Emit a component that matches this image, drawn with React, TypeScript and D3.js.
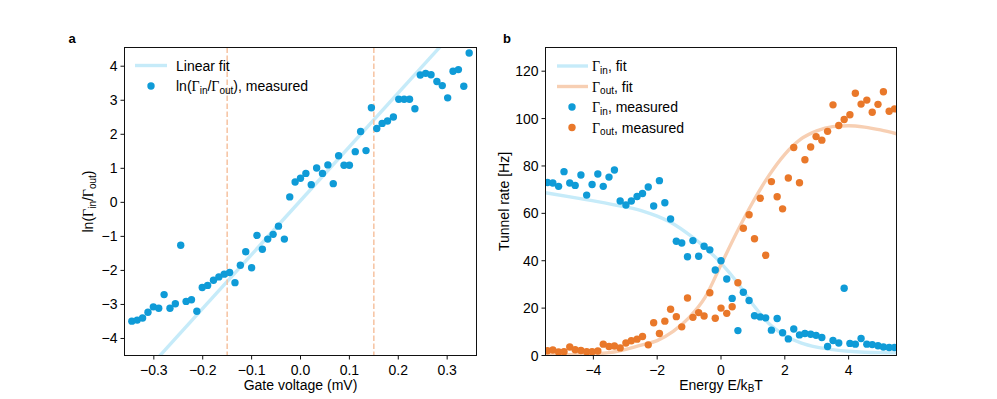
import React from 'react';
import * as d3 from 'd3';

const W = 997;
const H = 399;

// ---------- Panel a data ----------
const GATE_V = [
  -0.345, -0.334, -0.323, -0.312, -0.301, -0.290, -0.279, -0.267, -0.256, -0.245,
  -0.234, -0.223, -0.212, -0.201, -0.190, -0.178, -0.167, -0.156, -0.145, -0.134,
  -0.123, -0.112, -0.100, -0.089, -0.078, -0.067, -0.056, -0.045, -0.033, -0.022,
  -0.011, 0.000, 0.011, 0.022, 0.033, 0.045, 0.056, 0.067, 0.078, 0.089,
  0.100, 0.112, 0.123, 0.134, 0.145, 0.156, 0.167, 0.178, 0.190, 0.201,
  0.212, 0.223, 0.234, 0.245, 0.256, 0.267, 0.279, 0.290, 0.301, 0.312,
  0.323, 0.334, 0.345,
];
const LN_RATIO = [
  -3.49, -3.46, -3.40, -3.23, -3.07, -3.11, -2.71, -3.11, -2.98, -1.26,
  -2.91, -2.86, -3.20, -2.50, -2.44, -2.29, -2.19, -2.11, -2.06, -2.36,
  -1.85, -1.45, -1.92, -0.97, -1.38, -1.08, -0.94, -0.70, -1.08, 0.16,
  0.60, 0.71, 0.85, 0.52, 1.01, 0.85, 1.10, 0.55, 1.37, 1.09,
  1.09, 1.49, 2.08, 1.52, 2.78, 2.17, 2.32, 2.39, 2.51, 3.03,
  3.03, 3.03, 2.75, 3.74, 3.79, 3.75, 3.55, 3.43, 3.07, 3.85,
  3.90, 3.41, 4.39,
];
const LIN_FIT_X = [-0.30, 0.30];
const LIN_FIT_Y = [-4.70, 4.80];
const VLINE_X = [-0.15, 0.15];
const A_XTICKS = [-0.3, -0.2, -0.1, 0.0, 0.1, 0.2, 0.3];
const A_YTICKS = [-4, -3, -2, -1, 0, 1, 2, 3, 4];

// ---------- Panel b data ----------
const ENERGY = [
  -5.44, -5.27, -5.09, -4.92, -4.74, -4.57, -4.39, -4.21, -4.04, -3.86,
  -3.69, -3.51, -3.34, -3.16, -2.98, -2.81, -2.63, -2.46, -2.28, -2.11,
  -1.93, -1.76, -1.58, -1.40, -1.23, -1.05, -0.88, -0.70, -0.53, -0.35,
  -0.18, 0.00, 0.18, 0.35, 0.53, 0.70, 0.88, 1.05, 1.23, 1.40,
  1.58, 1.76, 1.93, 2.11, 2.28, 2.46, 2.63, 2.81, 2.98, 3.16,
  3.34, 3.51, 3.69, 3.86, 4.04, 4.21, 4.39, 4.57, 4.74, 4.92,
  5.09, 5.27, 5.44,
];
const G_IN = [
  73.0, 72.8, 71.4, 77.6, 72.8, 71.8, 76.2, 67.7, 72.2, 76.6,
  71.4, 75.3, 78.3, 65.2, 63.5, 65.2, 67.1, 68.4, 71.1, 63.1,
  73.8, 64.5, 57.6, 48.2, 47.5, 41.7, 48.5, 41.9, 46.1, 44.6,
  36.1, 40.0, 32.3, 24.1, 10.5, 26.7, 23.2, 16.8, 16.3, 15.9,
  10.7, 15.6, 9.6, 7.0, 11.2, 8.7, 9.3, 9.0, 8.5, 7.6,
  3.8, 6.3, 5.3, 28.4, 5.1, 4.8, 7.2, 4.8, 4.6, 4.1,
  3.6, 3.4, 3.4,
];
const G_OUT = [
  2.0, 2.3, 1.5, 1.6, 3.6, 2.4, 2.1, 1.6, 1.6, 1.9,
  4.8, 3.8, 4.0, 3.2, 5.3, 6.2, 6.9, 8.0, 4.5, 13.8,
  9.3, 14.5, 19.5, 16.4, 12.1, 24.3, 16.1, 18.1, 16.7, 26.5,
  15.7, 20.0, 17.8, 20.6, 30.7, 53.7, 59.4, 49.3, 66.4, 42.3,
  73.4, 67.0, 61.9, 74.9, 87.8, 72.9, 82.6, 88.0, 92.4, 90.9,
  94.6, 105.8, 97.1, 99.6, 101.6, 110.7, 106.1, 107.8, 102.7, 106.0,
  111.3, 103.1, 104.1,
];
const FIT_E = [-5.5, -4.5, -3.5, -2.5, -2, -1.5, -1, -0.5, 0, 0.5, 1, 1.5, 2, 2.5, 3, 3.5, 4, 4.5, 5, 5.5];
const FIT_IN = [68.7, 66.4, 64.0, 61.2, 58.8, 55.6, 51.0, 45.6, 39.0, 31.0, 21.5, 13.5, 8.5, 5.3, 3.5, 2.5, 1.8, 1.4, 1.2, 1.1];
const FIT_OUT = [0.2, 0.4, 1.2, 4.4, 6.3, 10.2, 16.0, 24.5, 38.3, 52.1, 64.8, 75.9, 84.9, 91.3, 94.8, 96.6, 97.0, 96.4, 95.2, 93.6];
const B_XTICKS = [-4, -2, 0, 2, 4];
const B_YTICKS = [0, 20, 40, 60, 80, 100, 120];

// ---------- styles ----------
const FONT = "'Liberation Sans', Arial, Helvetica, sans-serif";
const SERIF = "'Liberation Serif', 'Times New Roman', serif";
const BLUE = '#0f9bd7';
const ORANGE = '#e9782a';
const BLUE_FIT = '#c6ebf9';
const ORANGE_FIT = '#f7cfb3';
const VLINE = '#f6c2a0';
const FS = 14;
const R = 3.7;

type Part = { t: string; serif?: boolean; sub?: boolean };

function MathText(parts: Part[]) {
  let prevSub = false;
  return parts.map((p, i) => {
    let dy = 0;
    if (p.sub && !prevSub) dy = 3.5;
    if (!p.sub && prevSub) dy = -3.5;
    prevSub = !!p.sub;
    return (
      <tspan
        key={i}
        dy={dy}
        fontFamily={p.serif ? SERIF : FONT}
        fontSize={p.sub ? 10 : FS}
      >
        {p.t}
      </tspan>
    );
  });
}

const LN_LABEL: Part[] = [
  { t: 'ln(' },
  { t: 'Γ', serif: true },
  { t: 'in', sub: true },
  { t: '/' },
  { t: 'Γ', serif: true },
  { t: 'out', sub: true },
  { t: ')' },
];

function Frame({ x0, x1, y0, y1 }: { x0: number; x1: number; y0: number; y1: number }) {
  return (
    <rect x={x0} y={y0} width={x1 - x0} height={y1 - y0} fill="none" stroke="#111" strokeWidth={1} />
  );
}

function PanelA() {
  const x0 = 124.5, x1 = 476.5, y0 = 47.5, y1 = 355.5;
  const xs = d3.scaleLinear().domain([-0.36, 0.36]).range([x0, x1]);
  const ys = d3.scaleLinear().domain([-4.5, 4.55]).range([y1, y0]);
  const fmtX = d3.format('.1f');
  const fmtY = d3.format('d');
  const fitLine = d3.line<number>().x((d, i) => xs(LIN_FIT_X[i])).y((d) => ys(d));
  return (
    <g>
      <defs>
        <clipPath id="clipA">
          <rect x={x0} y={y0} width={x1 - x0} height={y1 - y0} />
        </clipPath>
      </defs>
      <g clipPath="url(#clipA)">
        <path d={fitLine(LIN_FIT_Y) || ''} stroke={BLUE_FIT} strokeWidth={3.4} fill="none" />
        {VLINE_X.map((v) => (
          <line key={v} x1={xs(v)} x2={xs(v)} y1={y0} y2={y1} stroke={VLINE} strokeWidth={1.5} strokeDasharray="5.5,2.5" />
        ))}
        {GATE_V.map((v, i) => (
          <circle key={i} cx={xs(v)} cy={ys(LN_RATIO[i])} r={R} fill={BLUE} />
        ))}
      </g>
      <Frame x0={x0} x1={x1} y0={y0} y1={y1} />
      {A_XTICKS.map((t) => (
        <g key={t}>
          <line x1={xs(t)} x2={xs(t)} y1={y1} y2={y1 + 4} stroke="#111" strokeWidth={1} />
          <text x={xs(t)} y={y1 + 14} textAnchor="middle" dominantBaseline="central" fontSize={FS} fontFamily={FONT}>
            {fmtX(t)}
          </text>
        </g>
      ))}
      {A_YTICKS.map((t) => (
        <g key={t}>
          <line x1={x0 - 4} x2={x0} y1={ys(t)} y2={ys(t)} stroke="#111" strokeWidth={1} />
          <text x={x0 - 7} y={ys(t)} textAnchor="end" dominantBaseline="central" fontSize={FS} fontFamily={FONT}>
            {fmtY(t)}
          </text>
        </g>
      ))}
      <text x={(x0 + x1) / 2} y={384.5} textAnchor="middle" dominantBaseline="central" fontSize={FS} fontFamily={FONT}>
        Gate voltage (mV)
      </text>
      <text
        transform={`translate(88,${(y0 + y1) / 2}) rotate(-90)`}
        textAnchor="middle"
        dominantBaseline="central"
        fontSize={FS}
        fontFamily={FONT}
      >
        {MathText(LN_LABEL)}
      </text>
      {/* legend */}
      <line x1={135} x2={167} y1={65.5} y2={65.5} stroke={BLUE_FIT} strokeWidth={3.4} />
      <text x={176} y={65.5} dominantBaseline="central" fontSize={FS} fontFamily={FONT}>
        Linear fit
      </text>
      <circle cx={151} cy={86} r={R} fill={BLUE} />
      <text x={176} y={86} dominantBaseline="central" fontSize={FS} fontFamily={FONT}>
        {MathText([...LN_LABEL, { t: ', measured' }])}
      </text>
      <text x={72} y={38} textAnchor="middle" dominantBaseline="central" fontSize={13} fontWeight="bold" fontFamily={FONT}>
        a
      </text>
    </g>
  );
}

function PanelB() {
  const x0 = 545.5, x1 = 896.5, y0 = 47.5, y1 = 355.5;
  const xs = d3.scaleLinear().domain([-5.5, 5.5]).range([x0, x1]);
  const ys = d3.scaleLinear().domain([0, 130]).range([y1, y0]);
  const fmtX = d3.format('d');
  const curve = (vals: number[]) =>
    d3
      .line<number>()
      .x((d, i) => xs(FIT_E[i]))
      .y((d) => ys(d))
      .curve(d3.curveMonotoneX)(vals) || '';
  return (
    <g>
      <defs>
        <clipPath id="clipB">
          <rect x={x0} y={y0} width={x1 - x0} height={y1 - y0} />
        </clipPath>
      </defs>
      <g clipPath="url(#clipB)">
        <path d={curve(FIT_IN)} stroke={BLUE_FIT} strokeWidth={3.4} fill="none" />
        <path d={curve(FIT_OUT)} stroke={ORANGE_FIT} strokeWidth={3.4} fill="none" />
        {ENERGY.map((e, i) => (
          <circle key={'in' + i} cx={xs(e)} cy={ys(G_IN[i])} r={R} fill={BLUE} />
        ))}
        {ENERGY.map((e, i) => (
          <circle key={'out' + i} cx={xs(e)} cy={ys(G_OUT[i])} r={R} fill={ORANGE} />
        ))}
      </g>
      <Frame x0={x0} x1={x1} y0={y0} y1={y1} />
      {B_XTICKS.map((t) => (
        <g key={t}>
          <line x1={xs(t)} x2={xs(t)} y1={y1} y2={y1 + 4} stroke="#111" strokeWidth={1} />
          <text x={xs(t)} y={y1 + 14} textAnchor="middle" dominantBaseline="central" fontSize={FS} fontFamily={FONT}>
            {fmtX(t)}
          </text>
        </g>
      ))}
      {B_YTICKS.map((t) => (
        <g key={t}>
          <line x1={x0 - 4} x2={x0} y1={ys(t)} y2={ys(t)} stroke="#111" strokeWidth={1} />
          <text x={x0 - 7} y={ys(t)} textAnchor="end" dominantBaseline="central" fontSize={FS} fontFamily={FONT}>
            {t}
          </text>
        </g>
      ))}
      <text x={(x0 + x1) / 2} y={384.5} textAnchor="middle" dominantBaseline="central" fontSize={FS} fontFamily={FONT}>
        {MathText([{ t: 'Energy E/k' }, { t: 'B', sub: true }, { t: 'T' }])}
      </text>
      <text
        transform={`translate(504,${(y0 + y1) / 2}) rotate(-90)`}
        textAnchor="middle"
        dominantBaseline="central"
        fontSize={FS}
        fontFamily={FONT}
      >
        Tunnel rate [Hz]
      </text>
      {/* legend */}
      <line x1={557} x2={588} y1={66} y2={66} stroke={BLUE_FIT} strokeWidth={3.4} />
      <text x={592} y={66} dominantBaseline="central" fontSize={FS} fontFamily={FONT}>
        {MathText([{ t: 'Γ', serif: true }, { t: 'in', sub: true }, { t: ', fit' }])}
      </text>
      <line x1={557} x2={588} y1={86.5} y2={86.5} stroke={ORANGE_FIT} strokeWidth={3.4} />
      <text x={592} y={86.5} dominantBaseline="central" fontSize={FS} fontFamily={FONT}>
        {MathText([{ t: 'Γ', serif: true }, { t: 'out', sub: true }, { t: ', fit' }])}
      </text>
      <circle cx={572} cy={107} r={R} fill={BLUE} />
      <text x={592} y={107} dominantBaseline="central" fontSize={FS} fontFamily={FONT}>
        {MathText([{ t: 'Γ', serif: true }, { t: 'in', sub: true }, { t: ', measured' }])}
      </text>
      <circle cx={572} cy={127.5} r={R} fill={ORANGE} />
      <text x={592} y={127.5} dominantBaseline="central" fontSize={FS} fontFamily={FONT}>
        {MathText([{ t: 'Γ', serif: true }, { t: 'out', sub: true }, { t: ', measured' }])}
      </text>
      <text x={507} y={38} textAnchor="middle" dominantBaseline="central" fontSize={13} fontWeight="bold" fontFamily={FONT}>
        b
      </text>
    </g>
  );
}

export default function App() {
  return (
    <svg
      width={W}
      height={H}
      viewBox={`0 0 ${W} ${H}`}
      style={{ position: 'absolute', left: 0, top: 0, background: '#fff' }}
      fontFamily={FONT}
    >
      <rect x={0} y={0} width={W} height={H} fill="#fff" />
      <PanelA />
      <PanelB />
    </svg>
  );
}
